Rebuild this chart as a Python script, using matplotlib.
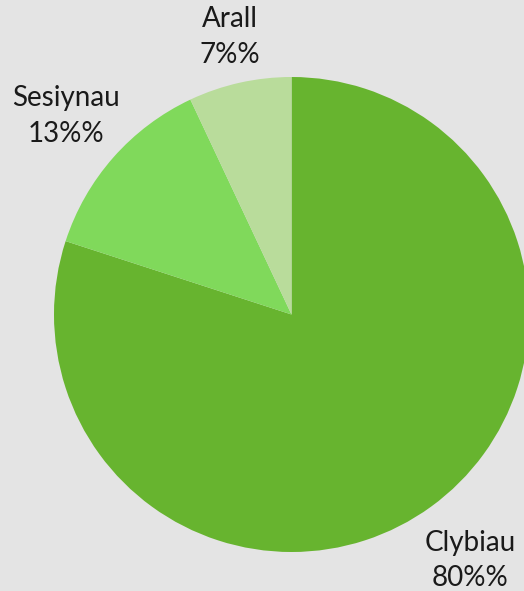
import numpy as np
import matplotlib
matplotlib.use("Agg")
import matplotlib.pyplot as plt

categories = ["Clybiau", "Sesiynau", "Arall"]
values = [80, 13, 7]
colors = ["#67b42f", "#80d95b", "#b9dc9b"]
label_dist = [1.28, 1.265, 1.197]

W, H = 524, 591
fig = plt.figure(figsize=(W / 100, H / 100), dpi=100)
fig.patch.set_facecolor("#e4e4e4")

cx, cy, r = 291.5, 314.5, 237.5
ax = fig.add_axes([(cx - r) / W, (H - cy - r) / H, 2 * r / W, 2 * r / H])
ax.set_facecolor("none")
wedges, _ = ax.pie(values, colors=colors, startangle=90, counterclock=False,
                   radius=1, wedgeprops=dict(linewidth=0))
for w in wedges:
    w.set_clip_on(False)
ax.set_xlim(-1, 1)
ax.set_ylim(-1, 1)
ax.set_aspect("equal")
ax.axis("off")

for w, cat, v, d in zip(wedges, categories, values, label_dist):
    ang = np.deg2rad((w.theta1 + w.theta2) / 2)
    ax.text(d * np.cos(ang), d * np.sin(ang), f"{cat}\n{v}%%",
            ha="center", va="center", fontsize=20, family="Lato",
            color="#1a1a1a", linespacing=1.45, clip_on=False)

fig.savefig("out.png", dpi=100, facecolor=fig.get_facecolor())
